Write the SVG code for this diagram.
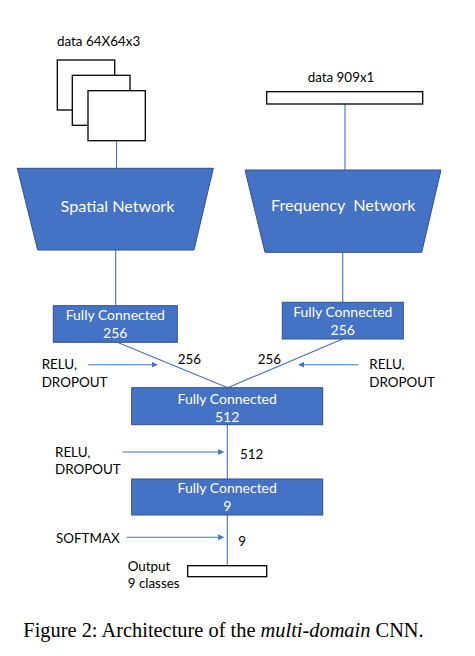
<svg xmlns="http://www.w3.org/2000/svg" width="475" height="656" viewBox="0 0 475 656">
<defs>
<style>
.lbl{font-family:Lato,"Open Sans",sans-serif;font-size:13.4px;fill:#000}
.wt{font-family:Lato,"Open Sans",sans-serif;fill:#fff;text-anchor:middle}
.blk{fill:#4472C4;stroke:#2F528F;stroke-width:1}
.data{fill:#fff;stroke:#000;stroke-width:1.3}
.ln{stroke:#4472C4;stroke-width:1.1;fill:none}
.cap{font-family:"Liberation Serif","Times New Roman",serif;font-size:20.4px;fill:#000}
</style>
<marker id="ah" viewBox="0 0 10 10" refX="9" refY="5" markerWidth="6" markerHeight="6" orient="auto" markerUnits="userSpaceOnUse">
<path d="M0,0 L10,5 L0,10 z" fill="#4472C4"/>
</marker>
</defs>
<rect width="475" height="656" fill="#fff"/>
<g id="connectors">
<line class="ln" x1="116.5" y1="140.7" x2="116.5" y2="168.3"/>
<line class="ln" x1="345" y1="104" x2="345" y2="170"/>
<line class="ln" x1="115.7" y1="250" x2="115.7" y2="305.7"/>
<line class="ln" x1="342.7" y1="252.3" x2="342.7" y2="302.3"/>
<line class="ln" x1="117.3" y1="342.3" x2="227.7" y2="387.7"/>
<line class="ln" x1="342.7" y1="339" x2="227.7" y2="387.7"/>
<line class="ln" x1="227.3" y1="424.7" x2="227.3" y2="479"/>
<line class="ln" x1="227.3" y1="515" x2="227.3" y2="565.7"/>
<line class="ln" x1="88.3" y1="364.7" x2="157" y2="364.7" marker-end="url(#ah)"/>
<line class="ln" x1="358.3" y1="364.7" x2="299" y2="364.7" marker-end="url(#ah)"/>
<line class="ln" x1="122.7" y1="452" x2="223.5" y2="452" marker-end="url(#ah)"/>
<line class="ln" x1="126.7" y1="537.3" x2="223.5" y2="537.3" marker-end="url(#ah)"/>
</g>
<g id="data-image">
<text class="lbl" x="57" y="46">data 64X64x3</text>
<rect class="data" x="57.3" y="60" width="57.4" height="50"/>
<rect class="data" x="72.3" y="75.3" width="57.7" height="50"/>
<rect class="data" x="88" y="90.7" width="57.3" height="50"/>
</g>
<g id="data-freq">
<text class="lbl" x="341" y="81.7" text-anchor="middle">data 909x1</text>
<rect class="data" x="266.7" y="91.7" width="156" height="12.3"/>
</g>
<g id="spatial-network">
<polygon class="blk" points="17.3,168.3 213.3,168.3 194,250 37.7,250"/>
<text class="wt" x="117.5" y="211.5" font-size="16.2">Spatial Network</text>
</g>
<g id="frequency-network">
<polygon class="blk" points="245,170 441,170 421.7,252.3 265,252.3"/>
<text class="wt" x="343.3" y="210.5" font-size="16.2" xml:space="preserve">Frequency  Network</text>
</g>
<g id="fc256-left">
<rect class="blk" x="53.3" y="305.7" width="124" height="36.6"/>
<text class="wt" x="115.3" y="320" font-size="14">Fully Connected</text>
<text class="wt" x="115.3" y="338" font-size="14">256</text>
</g>
<g id="fc256-right">
<rect class="blk" x="282.3" y="302.3" width="121" height="36.7"/>
<text class="wt" x="342.8" y="317" font-size="14">Fully Connected</text>
<text class="wt" x="342.8" y="334.5" font-size="14">256</text>
</g>
<g id="fc512">
<rect class="blk" x="131.7" y="387.7" width="191" height="37"/>
<text class="wt" x="227.2" y="403.5" font-size="14">Fully Connected</text>
<text class="wt" x="227.2" y="421.5" font-size="14">512</text>
</g>
<g id="fc9">
<rect class="blk" x="131.7" y="479" width="191" height="36"/>
<text class="wt" x="227.2" y="493" font-size="14">Fully Connected</text>
<text class="wt" x="227.2" y="510.5" font-size="14">9</text>
</g>
<g id="output">
<rect class="data" x="187.7" y="565.7" width="79" height="11"/>
<text class="lbl" x="127.7" y="571">Output</text>
<text class="lbl" x="127.7" y="588.3">9 classes</text>
</g>
<g id="labels">
<text class="lbl" x="177.7" y="364">256</text>
<text class="lbl" x="257.7" y="364">256</text>
<text class="lbl" x="41.7" y="369">RELU,</text>
<text class="lbl" x="41.7" y="386.7">DROPOUT</text>
<text class="lbl" x="369.3" y="369">RELU,</text>
<text class="lbl" x="369.3" y="386.7">DROPOUT</text>
<text class="lbl" x="55" y="456.7">RELU,</text>
<text class="lbl" x="55" y="474">DROPOUT</text>
<text class="lbl" x="240" y="459">512</text>
<text class="lbl" x="56" y="542.7">SOFTMAX</text>
<text class="lbl" x="238.3" y="545.7">9</text>
</g>
<text class="cap" x="23.3" y="636.7">Figure 2: Architecture of the <tspan font-style="italic">multi-domain</tspan> CNN.</text>
</svg>
